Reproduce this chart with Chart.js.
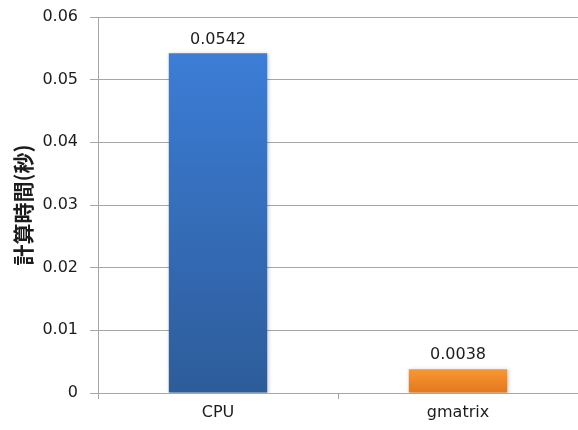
<!DOCTYPE html>
<html>
<head>
<meta charset="utf-8">
<script src="https://cdn.jsdelivr.net/npm/chart.js@4/dist/chart.umd.min.js"></script>
<style>
  html, body { margin: 0; padding: 0; background: #fff; }
  #wrap { width: 578px; height: 430px; }
</style>
</head>
<body>
<div id="wrap"><canvas id="timing_chart"></canvas></div>
<script>
var categories = ["CPU", "gmatrix"];
var seconds = [0.0542, 0.0038];
var yTicks = [0, 0.01, 0.02, 0.03, 0.04, 0.05, 0.06];

var gridColor = "#a6a6a6";
var textColor = "#1c1c1c";
var font = "'DejaVu Sans', sans-serif";

// top/bottom colour for each bar's vertical gradient
var barShades = [["#3c7dd6", "#2d5c9a"], ["#f99632", "#e2781e"]];

function barGradient(context) {
    var chart = context.chart;
    var area = chart.chartArea;
    if (!area) return barShades[context.dataIndex][0];
    var y = chart.scales.y;
    var top = y.getPixelForValue(seconds[context.dataIndex]);
    var bottom = y.getPixelForValue(0);
    var g = chart.ctx.createLinearGradient(0, top, 0, bottom);
    g.addColorStop(0, barShades[context.dataIndex][0]);
    g.addColorStop(1, barShades[context.dataIndex][1]);
    return g;
}

// soft shadow behind the bars
var barShadow = {
    id: "barShadow",
    beforeDatasetDraw: function(chart) {
        var ctx = chart.ctx;
        ctx.save();
        ctx.shadowColor = "rgba(0,0,0,0.25)";
        ctx.shadowBlur = 4;
        ctx.shadowOffsetX = 1;
        ctx.shadowOffsetY = 1;
    },
    afterDatasetDraw: function(chart) {
        chart.ctx.restore();
    }
};

// value printed above each bar
var valueLabels = {
    id: "valueLabels",
    afterDatasetsDraw: function(chart) {
        var ctx = chart.ctx;
        var meta = chart.getDatasetMeta(0);
        ctx.save();
        ctx.font = "16px " + font;
        ctx.fillStyle = textColor;
        ctx.textAlign = "center";
        ctx.textBaseline = "bottom";
        meta.data.forEach(function(bar, i) {
            ctx.fillText(String(seconds[i]), bar.x, bar.y - 6);
        });
        ctx.restore();
    }
};

var ctx = document.getElementById("timing_chart");
var chart = new Chart(ctx, {
    type: "bar",
    data: {
        labels: categories,
        datasets: [{
            data: seconds,
            backgroundColor: barGradient,
            borderWidth: 0,
            categoryPercentage: 1.0,
            barPercentage: 0.41
        }]
    },
    options: {
        responsive: true,
        maintainAspectRatio: false,
        animation: false,
        layout: { padding: { left: 10, top: 17, right: 0, bottom: 0 } },
        plugins: {
            legend: { display: false },
            tooltip: { enabled: false }
        },
        scales: {
            x: {
                offset: true,
                grid: {
                    offset: true,
                    drawOnChartArea: false,
                    color: gridColor,
                    tickLength: 6,
                    tickColor: gridColor
                },
                border: { color: gridColor, width: 1 },
                ticks: {
                    color: textColor,
                    font: { family: font, size: 16 },
                    padding: 4
                },
                afterFit: function(scale) { scale.height = 37; }
            },
            y: {
                min: 0,
                max: 0.06,
                afterBuildTicks: function(scale) {
                    scale.ticks = yTicks.map(function(v) { return { value: v }; });
                },
                grid: {
                    color: gridColor,
                    tickLength: 8,
                    tickColor: gridColor
                },
                border: { color: gridColor, width: 1 },
                ticks: {
                    color: textColor,
                    font: { family: font, size: 16 },
                    padding: 12,
                    callback: function(v) { return String(v); }
                },
                title: {
                    display: true,
                    text: "計算時間(秒)",
                    color: textColor,
                    font: { family: "'Noto Sans CJK JP', sans-serif", size: 21, weight: "bold" },
                    padding: { top: 0, bottom: 0 }
                },
                afterFit: function(scale) {
                    scale.width = 88;
                    scale.paddingTop = 0;
                    scale.paddingBottom = 0;
                }
            }
        }
    },
    plugins: [barShadow, valueLabels]
});
</script>
</body>
</html>
